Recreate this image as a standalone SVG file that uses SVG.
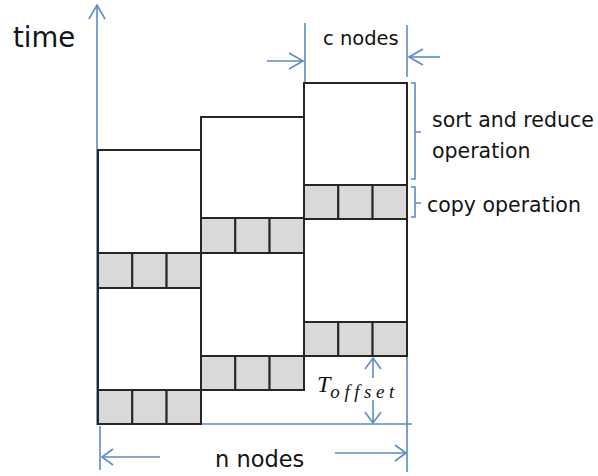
<svg xmlns="http://www.w3.org/2000/svg" width="598" height="476" viewBox="0 0 598 476">
  <style>
    .blk { fill: #ffffff; stroke: #262626; stroke-width: 2; }
    .cell { fill: #d9d9d9; stroke: #262626; stroke-width: 2; }
    .dim { fill: none; stroke: #5b8bc9; stroke-width: 1.6; }
    .lbl { font-family: "DejaVu Sans", "Liberation Sans", sans-serif; fill: #141414; }
    .math { font-family: "Liberation Serif", "DejaVu Serif", serif; font-style: italic; fill: #141414; }
  </style>
  <defs>
    <marker id="vee" markerUnits="userSpaceOnUse" markerWidth="20" markerHeight="20" viewBox="-16 -10 18 20" refX="0" refY="0" orient="auto">
      <path d="M -14 -8 L 0 0 L -14 8" fill="none" stroke="#5b8bc9" stroke-width="1.6"/>
    </marker>
    <marker id="veeS" markerUnits="userSpaceOnUse" markerWidth="20" markerHeight="20" viewBox="-16 -10 18 20" refX="0" refY="0" orient="auto">
      <path d="M -11 -8 L 0 0 L -11 8" fill="none" stroke="#5b8bc9" stroke-width="1.6"/>
    </marker>
  </defs>

  <rect width="598" height="476" fill="#ffffff"/>

  <!-- axes and dimension lines -->
  <g id="connectors">
    <!-- time axis -->
    <line class="dim" x1="97" y1="425" x2="97" y2="5" marker-end="url(#vee)"/>
    <!-- base line and extension lines -->
    <line class="dim" x1="98" y1="424" x2="412" y2="424"/>
    <line class="dim" x1="407" y1="83" x2="407" y2="472"/>
    <line class="dim" x1="100" y1="426" x2="100" y2="470"/>
    <!-- c nodes width -->
    <line class="dim" x1="305" y1="23" x2="305" y2="82"/>
    <line class="dim" x1="407" y1="25" x2="407" y2="77"/>
    <line class="dim" x1="267" y1="61" x2="303" y2="61" marker-end="url(#vee)"/>
    <line class="dim" x1="440" y1="57" x2="409" y2="57" marker-end="url(#vee)"/>
    <!-- n nodes width -->
    <line class="dim" x1="160" y1="457" x2="102" y2="457" marker-end="url(#veeS)"/>
    <line class="dim" x1="335" y1="453" x2="406" y2="453" marker-end="url(#veeS)"/>
    <!-- T offset -->
    <line class="dim" x1="373" y1="378" x2="373" y2="358" marker-end="url(#veeS)"/>
    <line class="dim" x1="373" y1="400" x2="373" y2="423" marker-end="url(#veeS)"/>
    <!-- braces -->
    <path class="dim" d="M 411 83 L 415 83 L 415 179 L 411 179 M 415 132 L 421 132"/>
    <path class="dim" d="M 411 187 L 415 187 L 415 217 L 411 217 M 415 203 L 421 203"/>
  </g>

  <!-- node column 1 -->
  <g id="col1">
    <rect class="blk" x="98" y="150" width="103" height="274"/>
    <g id="col1-copy-a">
      <rect class="cell" x="98" y="253" width="34.3" height="35"/>
      <rect class="cell" x="132.3" y="253" width="34.3" height="35"/>
      <rect class="cell" x="166.6" y="253" width="34.4" height="35"/>
    </g>
    <g id="col1-copy-b">
      <rect class="cell" x="98" y="390" width="34.3" height="34"/>
      <rect class="cell" x="132.3" y="390" width="34.3" height="34"/>
      <rect class="cell" x="166.6" y="390" width="34.4" height="34"/>
    </g>
  </g>

  <!-- node column 2 -->
  <g id="col2">
    <rect class="blk" x="201" y="117" width="103" height="273"/>
    <g id="col2-copy-a">
      <rect class="cell" x="201" y="218" width="34.3" height="35"/>
      <rect class="cell" x="235.3" y="218" width="34.3" height="35"/>
      <rect class="cell" x="269.6" y="218" width="34.4" height="35"/>
    </g>
    <g id="col2-copy-b">
      <rect class="cell" x="201" y="356" width="34.3" height="34"/>
      <rect class="cell" x="235.3" y="356" width="34.3" height="34"/>
      <rect class="cell" x="269.6" y="356" width="34.4" height="34"/>
    </g>
  </g>

  <!-- node column 3 -->
  <g id="col3">
    <rect class="blk" x="304" y="83" width="103" height="273"/>
    <g id="col3-copy-a">
      <rect class="cell" x="304" y="185" width="34.3" height="34"/>
      <rect class="cell" x="338.3" y="185" width="34.3" height="34"/>
      <rect class="cell" x="372.6" y="185" width="34.4" height="34"/>
    </g>
    <g id="col3-copy-b">
      <rect class="cell" x="304" y="322" width="34.3" height="34"/>
      <rect class="cell" x="338.3" y="322" width="34.3" height="34"/>
      <rect class="cell" x="372.6" y="322" width="34.4" height="34"/>
    </g>
  </g>

  <!-- labels -->
  <g id="label-time">
    <text class="lbl" x="13" y="47" font-size="27.5">time</text>
  </g>
  <g id="label-c-nodes">
    <text class="lbl" x="323" y="45" font-size="19.5">c nodes</text>
  </g>
  <g id="label-sort">
    <text class="lbl" x="432" y="127" font-size="20.5">sort and reduce</text>
    <text class="lbl" x="432" y="158" font-size="20.5">operation</text>
  </g>
  <g id="label-copy">
    <text class="lbl" x="427" y="212" font-size="20.5">copy operation</text>
  </g>
  <g id="label-n-nodes">
    <text class="lbl" x="215" y="467" font-size="22.5">n nodes</text>
  </g>
  <g id="label-t-offset">
    <text class="math" x="317" y="392" font-size="24">T<tspan font-size="19" dy="6" dx="0" textLength="64" lengthAdjust="spacing">offset</tspan></text>
  </g>
</svg>
